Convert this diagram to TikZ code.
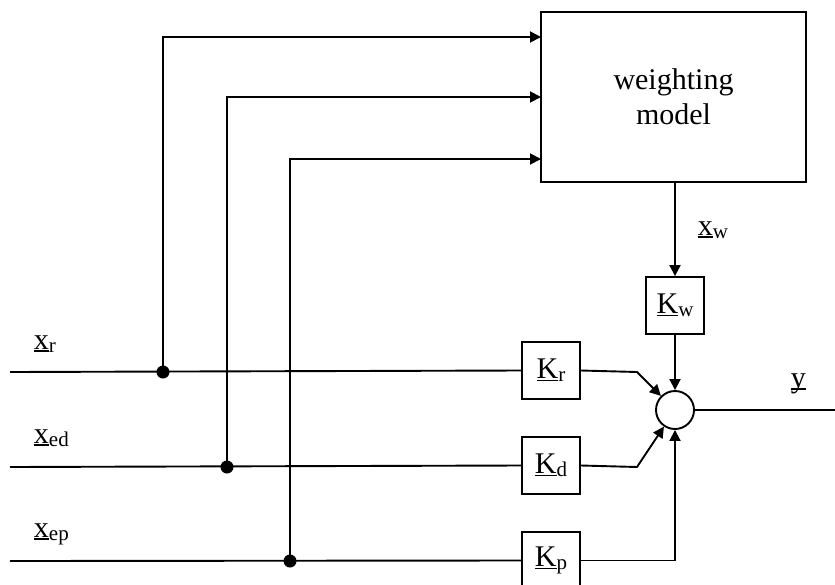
\documentclass[tikz,border=0pt]{standalone}
\usepackage{fontspec}
\setmainfont{Liberation Serif}
\usetikzlibrary{arrows.meta}
\newlength\ulw
\newcommand\ulx[1]{\settowidth\ulw{#1}\makebox[0pt][l]{\rule[-2.5pt]{\ulw}{1.2pt}}#1}
\newcommand\subx[1]{\raisebox{-3pt}{\fontsize{21}{21}\selectfont #1}}
\begin{document}
\begin{tikzpicture}[x=1pt,y=-1pt,
  line width=1.9pt,
  every node/.style={font=\fontsize{30}{35}\selectfont},
  arr/.style={-{Triangle[length=11pt,width=11pt]}},
  gbox/.style={draw,minimum width=58pt,minimum height=57pt,inner sep=0pt},
  dot/.style={circle,fill,inner sep=0pt,minimum size=13pt},
  lbl/.style={anchor=base west,inner sep=0pt}]
\useasboundingbox (0,0) rectangle (835,584);
% main block
\node[draw,minimum width=265pt,minimum height=170pt,align=center] (wm) at (673.5,97) {weighting\\model};
% gain blocks
\node[gbox] (kw) at (675,305.5) {\ulx{K}\subx{w}};
\node[gbox] (kr) at (551,370.5) {\ulx{K}\subx{r}};
\node[gbox] (kd) at (551,465.5) {\ulx{K}\subx{d}};
\node[gbox] (kp) at (551,560.5) {\ulx{K}\subx{p}};
% summing point
\node[draw,circle,minimum size=38pt,inner sep=0pt] (sum) at (675,410) {};
% labels
\node[lbl] (lxr) at (33,349) {\ulx{x}\subx{r}};
\node[lbl] (lxd) at (33,443) {\ulx{x}\subx{ed}};
\node[lbl] (lxp) at (33,537) {\ulx{x}\subx{ep}};
\node[lbl] (lxw) at (697,235) {\ulx{x}\subx{w}};
\node[lbl] (ly) at (790,387) {\ulx{y}};
% coordinates
\coordinate (sr) at (10,372);
\coordinate (sd) at (10,467);
\coordinate (sp) at (10,561);
\coordinate (w1) at (541,37);
\coordinate (w2) at (541,97);
\coordinate (w3) at (541,159);
\coordinate (br) at (637,372);
\coordinate (bd) at (637,467);
\coordinate (yout) at (835,410);
% branch dots
\node[dot] (dr) at (163,372) {};
\node[dot] (dd) at (227,467) {};
\node[dot] (dp) at (290,561) {};
% input lines
\draw (sr) -- (kr.west);
\draw (sd) -- (kd.west);
\draw (sp) -- (kp.west);
% feeds to weighting model
\draw[arr] (dr.center) |- (w1);
\draw[arr] (dd.center) |- (w2);
\draw[arr] (dp.center) |- (w3);
% weighting path
\draw[arr] (wm.south -| kw.north) -- (kw.north);
\draw[arr] (kw.south) -- (sum);
% gains to sum
\draw[arr] (kr.east) -- (br) -- (sum);
\draw[arr] (kd.east) -- (bd) -- (sum);
\draw[arr] (kp.east) -| (sum.south);
% output
\draw (sum.east) -- (yout);
\end{tikzpicture}
\end{document}
